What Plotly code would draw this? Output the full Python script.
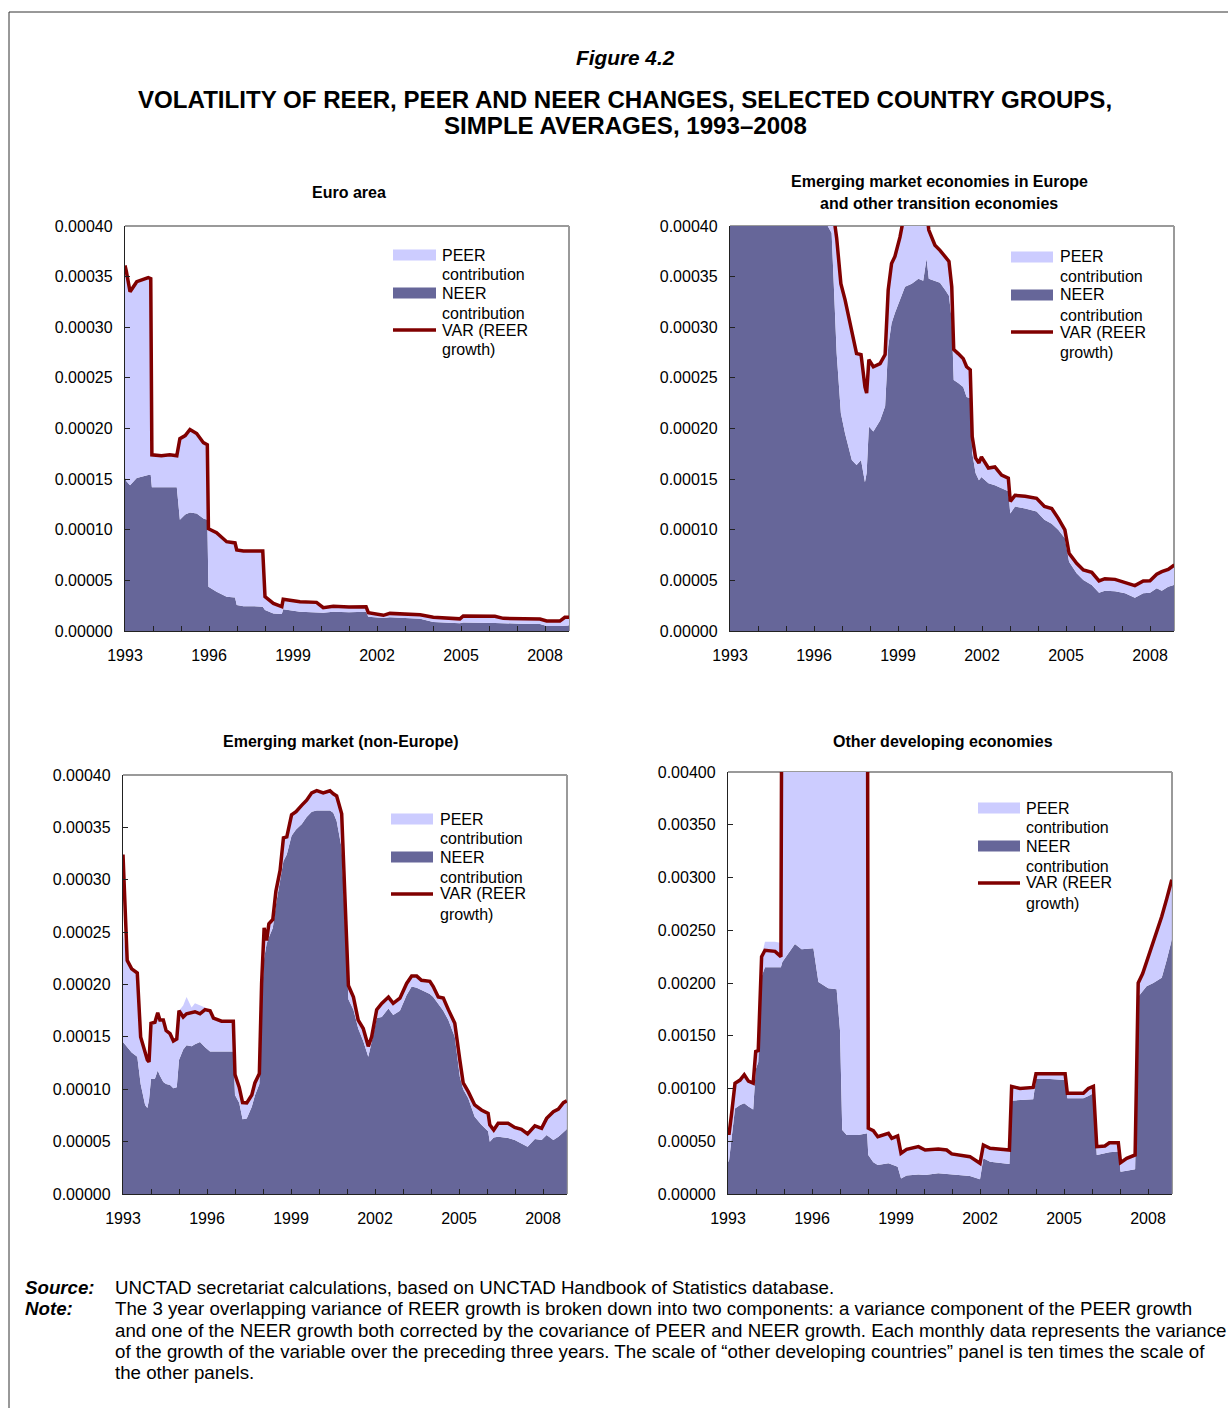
import plotly.graph_objects as go

# ---------------- DATA ----------------
year_ticks = [1993, 1994, 1995, 1996, 1997, 1998, 1999, 2000, 2001, 2002, 2003, 2004, 2005, 2006, 2007, 2008]
year_labels = ["1993", "", "", "1996", "", "", "1999", "", "", "2002", "", "", "2005", "", "", "2008"]
ytick_small = [0.0, 0.00005, 0.0001, 0.00015, 0.0002, 0.00025, 0.0003, 0.00035, 0.0004]
ytick_large = [0.0, 0.0005, 0.001, 0.0015, 0.002, 0.0025, 0.003, 0.0035, 0.004]

# Euro area
euro_years = [1993.00, 1993.05, 1993.18, 1993.42, 1993.83, 1993.92, 1993.96, 1994.30, 1994.60, 1994.85,
              1994.96, 1995.15, 1995.32, 1995.56, 1995.80, 1995.94, 1995.98, 1996.27, 1996.63, 1996.93,
              1996.99, 1997.23, 1997.60, 1997.92, 1998.00, 1998.30, 1998.60, 1998.65, 1999.25, 1999.84,
              2000.08, 2000.44, 2001.00, 2001.61, 2001.69, 2002.23, 2002.46, 2003.54, 2004.01, 2004.96,
              2005.08, 2006.21, 2006.51, 2007.11, 2007.82, 2008.06, 2008.53, 2008.71, 2008.87]
euro_neer = [152e-6, 148e-6, 144e-6, 151e-6, 154e-6, 154e-6, 142e-6, 142e-6, 142e-6, 142e-6,
             110e-6, 115e-6, 117e-6, 116e-6, 111e-6, 110e-6, 43.8e-6, 38.8e-6, 33.9e-6, 33.0e-6,
             25.7e-6, 24.5e-6, 24.5e-6, 24.0e-6, 20.7e-6, 17.4e-6, 16.8e-6, 21.4e-6, 19.1e-6, 18.5e-6,
             18.0e-6, 18.9e-6, 18.5e-6, 19.0e-6, 14.1e-6, 12.8e-6, 13.5e-6, 12.0e-6, 8.9e-6, 7.6e-6,
             8.5e-6, 8.0e-6, 7.5e-6, 7.2e-6, 7.0e-6, 4.9e-6, 5.0e-6, 5.5e-6, 5.5e-6]
euro_peer = [209e-6, 207e-6, 191e-6, 194e-6, 195e-6, 194e-6, 32e-6, 31e-6, 32e-6, 31e-6,
             80e-6, 78e-6, 82e-6, 79e-6, 75e-6, 74e-6, 57.2e-6, 58.2e-6, 54.3e-6, 54.0e-6,
             54.3e-6, 54.5e-6, 54.5e-6, 55.0e-6, 13.2e-6, 9.9e-6, 7.2e-6, 9.9e-6, 9.9e-6, 9.8e-6,
             5.0e-6, 5.5e-6, 5.3e-6, 5.0e-6, 4.0e-6, 2.7e-6, 3.9e-6, 4.0e-6, 4.6e-6, 4.4e-6,
             6.3e-6, 6.5e-6, 5.0e-6, 5.0e-6, 4.8e-6, 5.1e-6, 4.8e-6, 8.0e-6, 8.1e-6]
euro_var = [361e-6, 355e-6, 335e-6, 345e-6, 349e-6, 348e-6, 174e-6, 173e-6, 174e-6, 173e-6,
            190e-6, 193e-6, 199e-6, 195e-6, 186e-6, 184e-6, 101e-6, 97e-6, 88.2e-6, 87.0e-6,
            80.0e-6, 79.0e-6, 79.0e-6, 79.0e-6, 33.9e-6, 27.3e-6, 24.0e-6, 31.3e-6, 29.0e-6, 28.3e-6,
            23.0e-6, 24.4e-6, 23.8e-6, 24.0e-6, 18.1e-6, 15.5e-6, 17.4e-6, 16.0e-6, 13.5e-6, 12.0e-6,
            14.8e-6, 14.5e-6, 12.5e-6, 12.2e-6, 11.8e-6, 10.0e-6, 9.8e-6, 13.5e-6, 13.6e-6]

# Emerging market economies in Europe and other transition economies
emeu_years = [1993.00, 1994.00, 1995.00, 1996.00, 1996.39, 1996.63, 1996.81, 1996.96, 1997.11, 1997.35,
              1997.52, 1997.68, 1997.82, 1997.88, 1997.96, 1998.12, 1998.36, 1998.54, 1998.65, 1998.77,
              1998.89, 1999.07, 1999.25, 1999.49, 1999.73, 1999.90, 2000.02, 2000.10, 2000.32, 2000.50,
              2000.68, 2000.82, 2000.92, 2000.99, 2001.15, 2001.33, 2001.45, 2001.58, 2001.65, 2001.77,
              2001.89, 2001.98, 2002.23, 2002.46, 2002.70, 2002.94, 2003.01, 2003.18, 2003.54, 2003.95,
              2004.23, 2004.49, 2004.73, 2004.96, 2005.11, 2005.38, 2005.62, 2005.92, 2006.18, 2006.39,
              2006.75, 2007.11, 2007.46, 2007.76, 2008.00, 2008.24, 2008.42, 2008.65, 2008.87]
emeu_neer = [560e-6, 580e-6, 580e-6, 540e-6, 405e-6, 393e-6, 274e-6, 215e-6, 195e-6, 169e-6,
             164e-6, 169e-6, 147e-6, 156e-6, 202e-6, 197e-6, 208e-6, 222e-6, 281e-6, 304e-6,
             314e-6, 327e-6, 340e-6, 343e-6, 348e-6, 346e-6, 368e-6, 348e-6, 346e-6, 344e-6,
             337e-6, 331e-6, 307e-6, 248e-6, 245e-6, 241e-6, 231e-6, 230e-6, 176e-6, 156e-6,
             149e-6, 152e-6, 146e-6, 144e-6, 141e-6, 138e-6, 116e-6, 123e-6, 121e-6, 118e-6,
             110e-6, 106e-6, 99.8e-6, 91.5e-6, 68.5e-6, 57.0e-6, 50.4e-6, 45.4e-6, 37.9e-6, 39.8e-6,
             39.2e-6, 37.2e-6, 32.9e-6, 37.2e-6, 37.9e-6, 42.2e-6, 39.8e-6, 43.8e-6, 45.4e-6]
emeu_peer = [20e-6, 20e-6, 20e-6, 20e-6, 45e-6, 32e-6, 114e-6, 128e-6, 132e-6, 125e-6,
             110e-6, 104e-6, 94e-6, 79e-6, 66e-6, 64e-6, 56e-6, 51e-6, 56e-6, 59e-6,
             56e-6, 62e-6, 75e-6, 82e-6, 77e-6, 69e-6, 47e-6, 48e-6, 35e-6, 32e-6,
             33e-6, 34e-6, 33e-6, 30e-6, 29e-6, 28e-6, 30e-6, 28e-6, 16e-6, 15e-6,
             17e-6, 20e-6, 15e-6, 18e-6, 13e-6, 13e-6, 12e-6, 11e-6, 12e-6, 13e-6,
             13e-6, 15e-6, 11.2e-6, 8.3e-6, 8.2e-6, 9.8e-6, 9.9e-6, 12.6e-6, 11.5e-6, 11.9e-6,
             11.8e-6, 10.9e-6, 11.9e-6, 12.2e-6, 11.8e-6, 13.8e-6, 18.8e-6, 17.1e-6, 19.8e-6]
emeu_var = [580e-6, 600e-6, 600e-6, 560e-6, 450e-6, 425e-6, 388e-6, 343e-6, 327e-6, 294e-6,
            274e-6, 273e-6, 241e-6, 235e-6, 268e-6, 261e-6, 264e-6, 273e-6, 337e-6, 363e-6,
            370e-6, 389e-6, 415e-6, 425e-6, 425e-6, 415e-6, 415e-6, 396e-6, 381e-6, 376e-6,
            370e-6, 365e-6, 340e-6, 278e-6, 274e-6, 269e-6, 261e-6, 258e-6, 192e-6, 171e-6,
            166e-6, 172e-6, 161e-6, 162e-6, 154e-6, 151e-6, 128e-6, 134e-6, 133e-6, 131e-6,
            123e-6, 121e-6, 111e-6, 99.8e-6, 76.7e-6, 66.8e-6, 60.3e-6, 58.0e-6, 49.4e-6, 51.7e-6,
            51.0e-6, 48.1e-6, 44.8e-6, 49.4e-6, 49.7e-6, 56.0e-6, 58.6e-6, 60.9e-6, 65.2e-6]

# Emerging market (non-Europe)
emne_years = [1993.00, 1993.15, 1993.31, 1993.51, 1993.63, 1993.79, 1993.87, 1993.93, 1994.00, 1994.14,
              1994.24, 1994.32, 1994.44, 1994.54, 1994.68, 1994.80, 1994.92, 1995.00, 1995.15, 1995.27,
              1995.45, 1995.57, 1995.75, 1995.93, 1996.11, 1996.23, 1996.52, 1996.94, 1997.00, 1997.15,
              1997.27, 1997.42, 1997.60, 1997.71, 1997.87, 1997.95, 1998.04, 1998.13, 1998.21, 1998.35,
              1998.46, 1998.61, 1998.73, 1998.85, 1999.02, 1999.18, 1999.38, 1999.56, 1999.74, 1999.92,
              2000.15, 2000.39, 2000.51, 2000.63, 2000.81, 2000.93, 2001.05, 2001.23, 2001.40, 2001.58,
              2001.76, 2001.88, 2002.06, 2002.24, 2002.48, 2002.65, 2002.89, 2003.13, 2003.31, 2003.49,
              2003.66, 2003.96, 2004.08, 2004.26, 2004.44, 2004.62, 2004.85, 2005.03, 2005.15, 2005.33,
              2005.56, 2005.80, 2006.04, 2006.10, 2006.24, 2006.40, 2006.75, 2006.99, 2007.23, 2007.45,
              2007.71, 2007.95, 2008.13, 2008.37, 2008.55, 2008.73, 2008.85]
emne_neer = [145e-6, 140e-6, 135e-6, 131e-6, 105e-6, 85e-6, 82e-6, 90e-6, 110e-6, 110e-6,
             118e-6, 113e-6, 107e-6, 105e-6, 104e-6, 101e-6, 102e-6, 128e-6, 138e-6, 142e-6,
             141e-6, 143e-6, 145e-6, 140e-6, 136e-6, 136e-6, 136e-6, 136e-6, 94.5e-6, 87e-6,
             71.3e-6, 72e-6, 83.4e-6, 94e-6, 105e-6, 182e-6, 225e-6, 239e-6, 245e-6, 254e-6,
             276e-6, 300e-6, 318e-6, 324e-6, 342e-6, 348e-6, 353e-6, 360e-6, 365e-6, 366e-6,
             366e-6, 366e-6, 364e-6, 356e-6, 330e-6, 260e-6, 186e-6, 176e-6, 158e-6, 146e-6,
             131e-6, 145e-6, 168e-6, 169e-6, 177e-6, 171e-6, 175e-6, 190e-6, 198e-6, 197e-6,
             195e-6, 191e-6, 188e-6, 182e-6, 175e-6, 166e-6, 150e-6, 112e-6, 100e-6, 91.3e-6,
             73.8e-6, 66e-6, 60e-6, 49.9e-6, 54e-6, 54.7e-6, 53.5e-6, 51.5e-6, 48e-6, 45.2e-6,
             52.5e-6, 51.5e-6, 56.3e-6, 51.5e-6, 54.7e-6, 59.5e-6, 61.8e-6]
emne_peer = [105e-6, 80e-6, 78e-6, 78e-6, 45e-6, 48e-6, 45e-6, 35e-6, 52e-6, 53e-6,
             54e-6, 52e-6, 58e-6, 50e-6, 48e-6, 44e-6, 45e-6, 47e-6, 42e-6, 46e-6,
             37e-6, 39e-6, 35e-6, 38e-6, 38e-6, 31e-6, 28e-6, 28e-6, 18.5e-6, 14e-6,
             14.7e-6, 14e-6, 10.6e-6, 11e-6, 9e-6, 18e-6, 27e-6, 2e-6, 11e-6, 7e-6,
             12e-6, 8e-6, 21e-6, 16e-6, 19e-6, 16e-6, 17e-6, 15e-6, 17e-6, 18e-6,
             16e-6, 18e-6, 17e-6, 23e-6, 32e-6, 17e-6, 12e-6, 11e-6, 7e-6, 11e-6,
             9e-6, 4e-6, 7e-6, 12e-6, 10e-6, 10e-6, 11e-6, 10e-6, 9e-6, 10e-6,
             8e-6, 11e-6, 9e-6, 5e-6, 11e-6, 9e-6, 12e-6, 15e-6, 5e-6, 5.7e-6,
             10.2e-6, 13e-6, 16e-6, 15.1e-6, 6e-6, 12.3e-6, 13.5e-6, 11.5e-6, 13e-6, 11.8e-6,
             11.5e-6, 10.5e-6, 15.7e-6, 26.5e-6, 26.3e-6, 27.5e-6, 27.2e-6]
emne_var = [324e-6, 223e-6, 215e-6, 211e-6, 150e-6, 134e-6, 128e-6, 126e-6, 163e-6, 164e-6,
            173e-6, 166e-6, 166e-6, 156e-6, 153e-6, 146e-6, 148e-6, 175e-6, 169e-6, 172e-6,
            173e-6, 174e-6, 172e-6, 176e-6, 175e-6, 168e-6, 165e-6, 165e-6, 114e-6, 102e-6,
            87.2e-6, 87e-6, 94.5e-6, 106e-6, 115e-6, 201e-6, 254e-6, 242e-6, 258e-6, 262e-6,
            289e-6, 309e-6, 340e-6, 341e-6, 362e-6, 365e-6, 371e-6, 376e-6, 383e-6, 385e-6,
            383e-6, 385e-6, 382e-6, 380e-6, 363e-6, 278e-6, 199e-6, 188e-6, 166e-6, 158e-6,
            141e-6, 150e-6, 176e-6, 182e-6, 188e-6, 182e-6, 187e-6, 201e-6, 208e-6, 208e-6,
            204e-6, 203e-6, 198e-6, 188e-6, 187e-6, 176e-6, 163e-6, 128e-6, 106e-6, 97.7e-6,
            85.0e-6, 80.2e-6, 77.0e-6, 66.0e-6, 61.1e-6, 67.5e-6, 67.5e-6, 63.6e-6, 61.7e-6, 57.3e-6,
            65.0e-6, 62.7e-6, 72.2e-6, 78.6e-6, 81.0e-6, 87.2e-6, 89.0e-6]

# Other developing economies
odev_years = [1993.00, 1993.04, 1993.13, 1993.25, 1993.43, 1993.58, 1993.73, 1993.90, 1993.99, 1994.08,
              1994.20, 1994.32, 1994.68, 1994.89, 1994.94, 1995.27, 1995.39, 1995.63, 1996.05, 1996.23,
              1996.58, 1996.88, 1997.00, 1997.08, 1997.24, 1997.65, 1997.97, 1998.01, 1998.19, 1998.35,
              1998.49, 1998.73, 1998.85, 1999.06, 1999.18, 1999.38, 1999.80, 2000.04, 2000.51, 2000.81,
              2000.99, 2001.29, 2001.64, 2002.00, 2002.12, 2002.36, 2002.71, 2003.05, 2003.13, 2003.43,
              2003.90, 2004.00, 2004.50, 2005.04, 2005.12, 2005.45, 2005.69, 2005.87, 2006.05, 2006.17,
              2006.46, 2006.62, 2006.94, 2007.02, 2007.24, 2007.54, 2007.65, 2007.81, 2007.95, 2008.19,
              2008.49, 2008.67, 2008.85]
odev_neer = [300e-6, 322e-6, 530e-6, 810e-6, 844e-6, 860e-6, 830e-6, 800e-6, 1180e-6, 1250e-6,
             2060e-6, 2150e-6, 2150e-6, 2150e-6, 2200e-6, 2330e-6, 2370e-6, 2320e-6, 2330e-6, 2010e-6,
             1950e-6, 1940e-6, 1550e-6, 607e-6, 559e-6, 559e-6, 575e-6, 370e-6, 300e-6, 275e-6,
             280e-6, 291e-6, 280e-6, 259e-6, 148e-6, 175e-6, 185e-6, 180e-6, 196e-6, 190e-6,
             180e-6, 180e-6, 171e-6, 139e-6, 338e-6, 306e-6, 295e-6, 284e-6, 885e-6, 890e-6,
             898e-6, 1090e-6, 1090e-6, 1080e-6, 907e-6, 907e-6, 907e-6, 930e-6, 954e-6, 370e-6,
             385e-6, 395e-6, 404e-6, 212e-6, 220e-6, 234e-6, 1870e-6, 1920e-6, 1970e-6, 2000e-6,
             2050e-6, 2220e-6, 2410e-6]
odev_peer = [275e-6, 253e-6, 235e-6, 240e-6, 236e-6, 270e-6, 240e-6, 250e-6, 170e-6, 110e-6,
             190e-6, 240e-6, 240e-6, 230e-6, 4300e-6, 4170e-6, 4130e-6, 4180e-6, 4170e-6, 4490e-6,
             4550e-6, 4560e-6, 4950e-6, 5893e-6, 5941e-6, 5941e-6, 5925e-6, 253e-6, 300e-6, 268e-6,
             273e-6, 284e-6, 248e-6, 291e-6, 238e-6, 248e-6, 264e-6, 237e-6, 231e-6, 227e-6,
             200e-6, 190e-6, 183e-6, 152e-6, 126e-6, 127e-6, 128e-6, 133e-6, 135e-6, 110e-6,
             112e-6, 50e-6, 50e-6, 60e-6, 47e-6, 47e-6, 47e-6, 70e-6, 66e-6, 79e-6,
             70e-6, 91e-6, 82e-6, 85e-6, 118e-6, 136e-6, 130e-6, 170e-6, 230e-6, 380e-6,
             580e-6, 580e-6, 570e-6]
odev_var = [575e-6, 575e-6, 765e-6, 1050e-6, 1080e-6, 1130e-6, 1070e-6, 1050e-6, 1350e-6, 1360e-6,
            2250e-6, 2310e-6, 2300e-6, 2250e-6, 6500e-6, 6500e-6, 6500e-6, 6500e-6, 6500e-6, 6500e-6,
            6500e-6, 6500e-6, 6500e-6, 6500e-6, 6500e-6, 6500e-6, 6500e-6, 623e-6, 600e-6, 543e-6,
            553e-6, 575e-6, 528e-6, 550e-6, 386e-6, 423e-6, 449e-6, 417e-6, 427e-6, 417e-6,
            380e-6, 370e-6, 354e-6, 291e-6, 464e-6, 433e-6, 423e-6, 417e-6, 1020e-6, 1000e-6,
            1010e-6, 1140e-6, 1140e-6, 1140e-6, 954e-6, 954e-6, 954e-6, 1000e-6, 1020e-6, 449e-6,
            455e-6, 486e-6, 486e-6, 297e-6, 338e-6, 370e-6, 2000e-6, 2090e-6, 2200e-6, 2380e-6,
            2630e-6, 2800e-6, 2980e-6]

# ---------------- STYLE / LAYOUT ----------------
W, H = 1228, 1408
FONT = "Arial, Liberation Sans, sans-serif"
NEER_COLOR = "#666699"
PEER_COLOR = "#CCCCFF"
VAR_COLOR = "#800000"
TICK_FS = 16


def px(x):
    return x / W


def py(y):
    return 1 - y / H


panels = [
    dict(years=euro_years, neer=euro_neer, peer=euro_peer, var=euro_var,
         box=(125, 226, 569, 631), ymax=0.0004, yticks=ytick_small,
         titles=[("Euro area", 349, 192)], leg=(393, 436, 440, 255)),
    dict(years=emeu_years, neer=emeu_neer, peer=emeu_peer, var=emeu_var,
         box=(730, 226, 1174, 631), ymax=0.0004, yticks=ytick_small,
         titles=[("Emerging market economies in Europe", 939, 181),
                 ("and other transition economies", 939, 203)], leg=(1011, 1053, 1058, 257)),
    dict(years=emne_years, neer=emne_neer, peer=emne_peer, var=emne_var,
         box=(123, 775, 567, 1194), ymax=0.0004, yticks=ytick_small,
         titles=[("Emerging market (non-Europe)", 341, 741)], leg=(391, 433, 438, 819)),
    dict(years=odev_years, neer=odev_neer, peer=odev_peer, var=odev_var,
         box=(728, 772, 1172, 1194), ymax=0.004, yticks=ytick_large,
         titles=[("Other developing economies", 943, 741)], leg=(978, 1020, 1024, 808)),
]

fig = go.Figure()
annotations = []
shapes = []
layout_axes = {}

for i, p in enumerate(panels, start=1):
    sfx = "" if i == 1 else str(i)
    xa, ya = "x" + sfx, "y" + sfx
    x0, y0, x1, y1 = p["box"]
    x_range_end = 1993 + (x1 - x0) / 28.0

    fig.add_trace(go.Scatter(x=p["years"], y=p["neer"], xaxis=xa, yaxis=ya, stackgroup="s%d" % i,
                             mode="lines", line=dict(width=0, color=NEER_COLOR), fillcolor=NEER_COLOR,
                             name="NEER contribution", showlegend=False, hoverinfo="skip"))
    fig.add_trace(go.Scatter(x=p["years"], y=p["peer"], xaxis=xa, yaxis=ya, stackgroup="s%d" % i,
                             mode="lines", line=dict(width=0, color=PEER_COLOR), fillcolor=PEER_COLOR,
                             name="PEER contribution", showlegend=False, hoverinfo="skip"))
    fig.add_trace(go.Scatter(x=p["years"], y=p["var"], xaxis=xa, yaxis=ya, mode="lines",
                             line=dict(width=3.5, color=VAR_COLOR), name="VAR (REER growth)",
                             showlegend=False, hoverinfo="skip"))

    layout_axes["xaxis" + sfx] = dict(
        domain=[px(x0), px(x1)], anchor=ya, range=[1993, x_range_end], automargin=False,
        showline=True, linecolor="#222222", linewidth=1.2, ticks="inside", ticklen=5,
        tickcolor="#222222", tickwidth=1, tickvals=year_ticks, ticktext=year_labels,
        showgrid=False, zeroline=False, tickfont=dict(family=FONT, size=TICK_FS, color="#000"),
        ticklabelstandoff=10, fixedrange=True)
    layout_axes["yaxis" + sfx] = dict(
        domain=[py(y1), py(y0)], anchor=xa, range=[0, p["ymax"]], automargin=False,
        showline=True, linecolor="#222222", linewidth=1.2, ticks="inside", ticklen=5,
        tickcolor="#222222", tickwidth=1, tickvals=p["yticks"], tickformat=".5f",
        showgrid=False, zeroline=False, tickfont=dict(family=FONT, size=TICK_FS, color="#000"),
        ticklabelstandoff=8, fixedrange=True)

    shapes.append(dict(type="line", xref=xa + " domain", yref=ya + " domain", x0=0, x1=1, y0=1, y1=1,
                       line=dict(color="#9a9a9a", width=2), layer="below"))
    shapes.append(dict(type="line", xref=xa + " domain", yref=ya + " domain", x0=1, x1=1, y0=0, y1=1,
                       line=dict(color="#9a9a9a", width=2), layer="below"))

    for text, cx, cy in p["titles"]:
        annotations.append(dict(text="<b>%s</b>" % text, x=px(cx), y=py(cy), xref="paper", yref="paper",
                                xanchor="center", yanchor="middle", showarrow=False,
                                font=dict(family=FONT, size=16, color="#000")))

    sx0, sx1, tx, ty = p["leg"]
    shapes.append(dict(type="rect", xref="paper", yref="paper", x0=px(sx0), x1=px(sx1),
                       y0=py(ty + 5.5), y1=py(ty - 5.5), fillcolor=PEER_COLOR, line=dict(width=0)))
    shapes.append(dict(type="rect", xref="paper", yref="paper", x0=px(sx0), x1=px(sx1),
                       y0=py(ty + 38 + 5.5), y1=py(ty + 38 - 5.5), fillcolor=NEER_COLOR, line=dict(width=0)))
    shapes.append(dict(type="line", xref="paper", yref="paper", x0=px(sx0), x1=px(sx1),
                       y0=py(ty + 75), y1=py(ty + 75), line=dict(color=VAR_COLOR, width=3.5)))
    leg_lines = ["PEER", "contribution", "NEER", "contribution", "VAR (REER", "growth)"]
    offs = [0, 19, 38, 58, 75, 95]
    for t, o in zip(leg_lines, offs):
        annotations.append(dict(text=t, x=px(tx), y=py(ty + o), xref="paper", yref="paper",
                                xanchor="left", yanchor="middle", showarrow=False,
                                font=dict(family=FONT, size=16, color="#000")))

annotations.append(dict(text="<b><i>Figure 4.2</i></b>", x=px(625), y=py(57), xref="paper", yref="paper",
                        xanchor="center", yanchor="middle", showarrow=False,
                        font=dict(family=FONT, size=20.8, color="#000")))
annotations.append(dict(text="<b>VOLATILITY OF REER, PEER AND NEER CHANGES, SELECTED COUNTRY GROUPS,</b>",
                        x=px(625), y=py(99), xref="paper", yref="paper", xanchor="center", yanchor="middle",
                        showarrow=False, font=dict(family=FONT, size=24.1, color="#000")))
annotations.append(dict(text="<b>SIMPLE AVERAGES, 1993–2008</b>",
                        x=px(625), y=py(126), xref="paper", yref="paper", xanchor="center", yanchor="middle",
                        showarrow=False, font=dict(family=FONT, size=24.1, color="#000")))

NOTE_FS = 18.7
annotations.append(dict(text="<b><i>Source:</i></b>", x=px(23), y=py(1287), xref="paper", yref="paper",
                        xanchor="left", yanchor="middle", showarrow=False,
                        font=dict(family=FONT, size=NOTE_FS, color="#000")))
annotations.append(dict(text="<b><i>Note:</i></b>", x=px(23), y=py(1308), xref="paper", yref="paper",
                        xanchor="left", yanchor="middle", showarrow=False,
                        font=dict(family=FONT, size=NOTE_FS, color="#000")))
note_lines = [
    ("UNCTAD secretariat calculations, based on UNCTAD Handbook of Statistics database.", 1287),
    ("The 3 year overlapping variance of REER growth is broken down into two components: a variance component of the PEER growth", 1308),
    ("and one of the NEER growth both corrected by the covariance of PEER and NEER growth. Each monthly data represents the variance", 1330),
    ("of the growth of the variable over the preceding three years. The scale of \u201cother developing countries\u201d panel is ten times the scale of", 1351),
    ("the other panels.", 1372),
]
for t, yy in note_lines:
    annotations.append(dict(text=t, x=px(113), y=py(yy), xref="paper", yref="paper",
                            xanchor="left", yanchor="middle", showarrow=False,
                            font=dict(family=FONT, size=NOTE_FS, color="#000")))

shapes.append(dict(type="rect", xref="paper", yref="paper", x0=px(9), y0=-0.05, x1=1.05, y1=py(12),
                   line=dict(color="#333333", width=1), fillcolor="rgba(0,0,0,0)", layer="below"))

fig.update_layout(
    width=W, height=H, margin=dict(l=0, r=0, t=0, b=0, pad=0), autosize=False,
    paper_bgcolor="white", plot_bgcolor="white", showlegend=False,
    annotations=annotations, shapes=shapes, font=dict(family=FONT, color="#000"),
    **layout_axes,
)

fig.write_html("out.html", config={"displayModeBar": False, "staticPlot": True},
               post_script="document.body.style.margin='0';document.body.style.overflow='hidden';")
